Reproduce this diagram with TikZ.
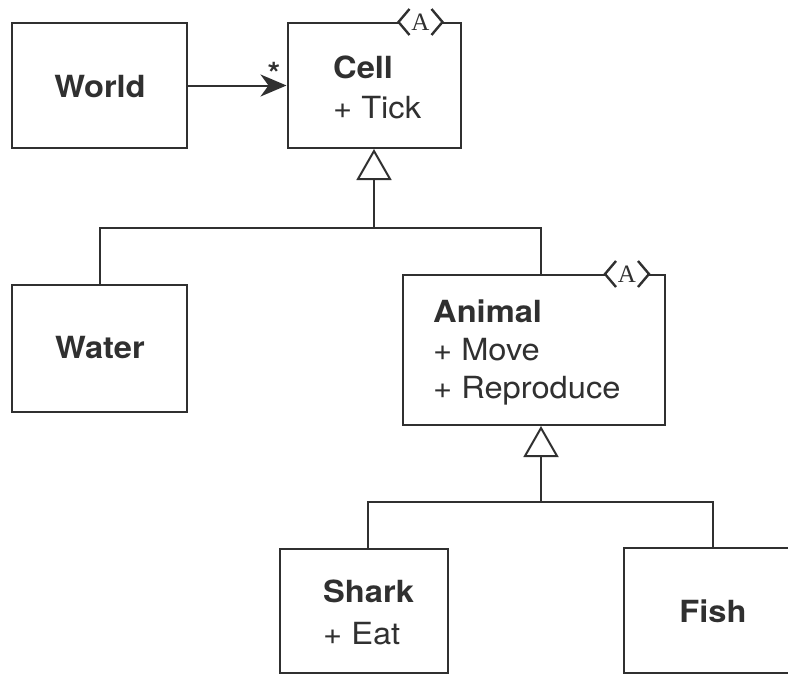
\documentclass[tikz,border=0pt]{standalone}
\usepackage{fontspec}
\setmainfont{TeX Gyre Heros}[FakeStretch=1.07]
\newfontfamily\markfont{Liberation Serif}
\usetikzlibrary{arrows.meta,calc}
\definecolor{ink}{HTML}{303030}
\begin{document}
\begin{tikzpicture}[x=1pt,y=-1pt,
  box/.style={draw=ink, line width=2pt, rectangle, inner sep=0pt, fill=white},
  txt/.style={text=ink, inner sep=0pt, font=\fontsize{30.5}{36}\selectfont},
  btxt/.style={text=ink, inner sep=0pt, font=\fontsize{30.5}{36}\selectfont\bfseries},
  line/.style={draw=ink, line width=2pt},
  gen/.style={line, -{Triangle[open, length=31pt, width=35pt]}},
  assoc/.style={line, -{Stealth[length=26pt, width=22pt, inset=8pt]}},
  absmark/.pic={
    \fill[white] (-11,-13) -- (-22,0) -- (-11,13) -- (11,13) -- (22,0) -- (11,-13) -- cycle;
    \draw[line, line width=2.4pt, line join=miter] (-11,-13) -- (-22,0) -- (-11,13) (11,-13) -- (22,0) -- (11,13);
    \node[text=ink, inner sep=0pt, font=\markfont\fontsize{25}{28}\selectfont] {A};
  }]
\useasboundingbox (0,0) rectangle (788,675);
\clip (0,0) rectangle (788,675);

% boxes
\node[box, minimum width=175pt, minimum height=125pt] (World) at (99.5,85.5) {};
\node[box, minimum width=173pt, minimum height=125pt] (Cell) at (374,85.5) {};
\node[box, minimum width=175pt, minimum height=127pt] (Water) at (99.5,348.5) {};
\node[box, minimum width=262pt, minimum height=150pt] (Animal) at (534,350) {};
\node[box, minimum width=168pt, minimum height=124pt] (Shark) at (364,611) {};
\node[box, minimum width=178pt, minimum height=125pt] (Fish) at (713,610.5) {};

% abstract markers
\pic at ([xshift=-41pt]Cell.north east) {absmark};
\pic at ([xshift=-39pt]Animal.north east) {absmark};

% texts
\node[btxt, anchor=base] (tWorld) at (100,97) {World};
\node[btxt, anchor=base west] (tCell) at (333,78) {Cell};
\node[txt, anchor=base west] (tTick) at (333,118) {+ Tick};
\node[btxt, anchor=base] (tWater) at (100,358) {Water};
\node[btxt, anchor=base west] (tAnimal) at (433,322) {Animal};
\node[txt, anchor=base west] (tMove) at (433,360) {+ Move};
\node[txt, anchor=base west] (tRepro) at (433,398) {+ Reproduce};
\node[btxt, anchor=base west] (tShark) at (323,602) {Shark};
\node[txt, anchor=base west] (tEat) at (323,644) {+ Eat};
\node[btxt, anchor=base] (tFish) at (713,622) {Fish};

% association
\draw[assoc] (World.east) -- (Cell.west);
\node[btxt, anchor=base] (star) at (274,84) {*};

% generalizations
\coordinate (h1) at (0,228);
\coordinate (h2) at (0,502);
\coordinate (aTop) at ([xshift=7pt]Animal.north);
\coordinate (aBot) at ([xshift=7pt]Animal.south);
\coordinate (sTop) at ([xshift=4pt]Shark.north);
\draw[line] (Water.north) |- (aTop |- h1) -- (aTop);
\draw[gen] (Cell.south |- h1) -- (Cell.south);
\draw[line] (sTop) |- (Fish.north |- h2) -- (Fish.north);
\draw[gen] (aBot |- h2) -- (aBot);
\end{tikzpicture}
\end{document}
